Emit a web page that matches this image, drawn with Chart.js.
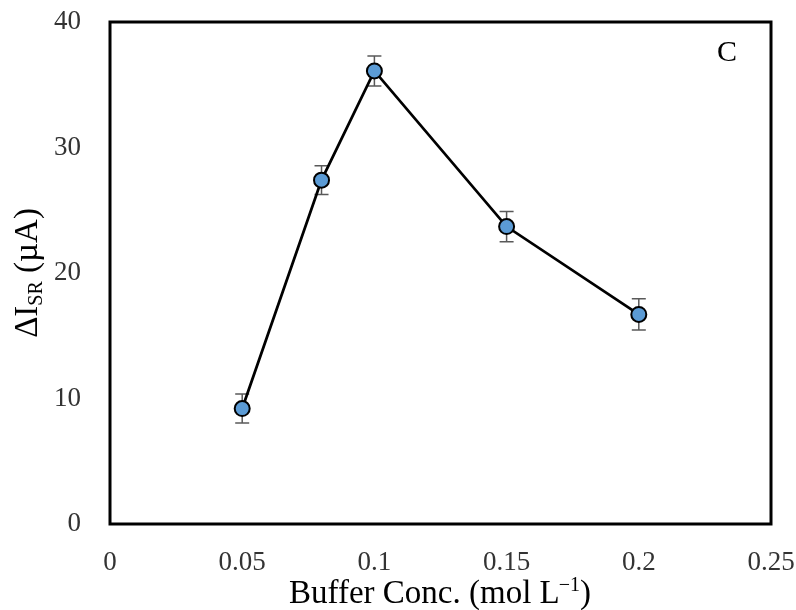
<!DOCTYPE html>
<html lang="en">
<head>
  <meta charset="UTF-8">
  <title>Buffer concentration</title>
  <script src="https://cdn.jsdelivr.net/npm/chart.js"></script>
  <style>
    body { margin: 0; background: #fff; }
  </style>
</head>
<body>
  <canvas id="chart0" width="796" height="610"></canvas>

  <script>
    /* Values. */
    const bufferConc = [0.05, 0.08, 0.1, 0.15, 0.2]
    const deltaI = [9.2, 27.4, 36.1, 23.7, 16.7]
    const errorBars = [1.15, 1.15, 1.2, 1.2, 1.25]
    const xTicks = [0, 0.05, 0.1, 0.15, 0.2, 0.25]
    const yTicks = [0, 10, 20, 30, 40]

    const serif = "'Liberation Serif', 'Times New Roman', serif"

    /* Frame, error bars and the axis titles with sub/superscripts. */
    const decorations = {
      id: 'decorations',
      beforeDatasetsDraw(chart) {
        const ctx = chart.ctx
        const xs = chart.scales.x
        const ys = chart.scales.y
        ctx.save()
        ctx.strokeStyle = '#595959'
        ctx.lineWidth = 1.5
        for (let i = 0; i < bufferConc.length; i++) {
          const px = xs.getPixelForValue(bufferConc[i])
          const top = ys.getPixelForValue(deltaI[i] + errorBars[i])
          const bot = ys.getPixelForValue(deltaI[i] - errorBars[i])
          ctx.beginPath()
          ctx.moveTo(px, top); ctx.lineTo(px, bot)
          ctx.moveTo(px - 7, top); ctx.lineTo(px + 7, top)
          ctx.moveTo(px - 7, bot); ctx.lineTo(px + 7, bot)
          ctx.stroke()
        }
        ctx.restore()
      },
      afterDraw(chart) {
        const ctx = chart.ctx
        const a = chart.chartArea
        ctx.save()
        ctx.strokeStyle = '#000'
        ctx.lineWidth = 3
        ctx.strokeRect(a.left, a.top, a.right - a.left, a.bottom - a.top)

        ctx.fillStyle = '#000'
        ctx.textBaseline = 'alphabetic'

        // panel letter
        ctx.font = '30px ' + serif
        ctx.textAlign = 'left'
        ctx.fillText('C', 717, 61)

        // x title
        const big = '33px ' + serif
        const small = '20px ' + serif
        ctx.font = big
        const p1 = 'Buffer Conc. (mol L'
        const w1 = ctx.measureText(p1).width
        const w3 = ctx.measureText(')').width
        ctx.font = small
        const w2 = ctx.measureText('\u22121').width
        let x = (a.left + a.right) / 2 - (w1 + w2 + w3) / 2
        const base = 603
        ctx.font = big
        ctx.fillText(p1, x, base)
        ctx.font = small
        ctx.fillText('\u22121', x + w1 - 1, base - 12)
        ctx.font = big
        ctx.fillText(')', x + w1 + w2 - 1, base)

        // y title, rotated
        ctx.translate(37, (a.top + a.bottom) / 2)
        ctx.rotate(-Math.PI / 2)
        ctx.font = big
        const q1 = '\u0394I'
        const q3 = ' (\u00b5A)'
        const v1 = ctx.measureText(q1).width
        const v3 = ctx.measureText(q3).width
        ctx.font = small
        const v2 = ctx.measureText('SR').width
        let y = -(v1 + v2 + v3) / 2
        ctx.font = big
        ctx.fillText(q1, y, 0)
        ctx.font = small
        ctx.fillText('SR', y + v1, 5)
        ctx.font = big
        ctx.fillText(q3, y + v1 + v2, 0)
        ctx.restore()
      }
    }

    const ctx0 = document.getElementById('chart0').getContext('2d')
    const myChart0 = new Chart(ctx0, {
      type: 'scatter',
      data: {
        datasets: [{
          data: bufferConc.map((c, i) => ({ x: c, y: deltaI[i] })),
          showLine: true,
          borderColor: '#000',
          borderWidth: 2.75,
          pointRadius: 7.5,
          pointHoverRadius: 7.5,
          pointBackgroundColor: '#5B9BD5',
          pointBorderColor: '#000',
          pointBorderWidth: 2,
        }]
      },
      options: {
        responsive: false,
        animation: false,
        layout: { padding: { top: 22, right: 25, left: 0, bottom: 0 } },
        plugins: {
          legend: { display: false },
          tooltip: { enabled: false },
        },
        scales: {
          x: {
            type: 'linear',
            min: 0,
            max: 0.25,
            grid: { display: false, drawTicks: false },
            border: { display: false },
            afterBuildTicks: s => { s.ticks = xTicks.map(v => ({ value: v })) },
            afterFit: s => {
              s.height = 86
              s.paddingLeft = 0
              s.paddingRight = 0
            },
            ticks: {
              padding: 23,
              color: '#333',
              font: { family: serif, size: 27 },
              callback: v => String(Number(v.toFixed(2))),
            },
          },
          y: {
            min: 0,
            max: 40,
            grid: { display: false, drawTicks: false },
            border: { display: false },
            afterBuildTicks: s => { s.ticks = yTicks.map(v => ({ value: v })) },
            afterFit: s => {
              s.width = 110
              s.paddingTop = 0
              s.paddingBottom = 0
            },
            ticks: {
              padding: 29,
              color: '#333',
              font: { family: serif, size: 27 },
            },
          },
        },
      },
      plugins: [decorations],
    })
  </script>
</body>
</html>
